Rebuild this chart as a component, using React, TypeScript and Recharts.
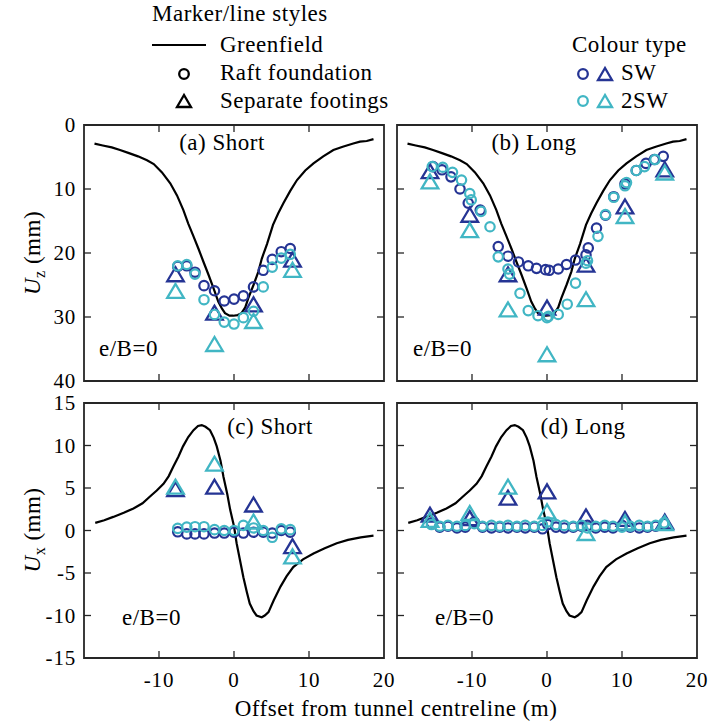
import React from 'react';
import { ComposedChart, Scatter, Line, XAxis, YAxis, ReferenceArea } from 'recharts';

// ---------- data ----------
const greenfieldUz = [
  [-18.6, 2.9], [-17.5, 3.2], [-16.3, 3.5], [-15.2, 3.9], [-14.0, 4.4], [-12.8, 4.9], [-11.6, 5.5],
  [-10.7, 6.1], [-9.6, 7.4], [-8.5, 9.1], [-7.6, 11.0], [-6.75, 13.3], [-6.1, 15.4], [-5.4, 17.4],
  [-4.75, 19.3], [-4.0, 21.6], [-3.4, 23.4], [-2.7, 25.6], [-2.1, 27.6], [-1.6, 28.7], [-1.2, 29.4],
  [-0.6, 29.8], [-0.1, 29.8], [0.5, 29.7], [1.0, 29.4], [1.5, 28.5], [1.9, 27.1], [2.6, 25.0],
  [3.25, 22.9], [3.7, 20.9], [4.4, 18.6], [5.2, 15.6], [5.9, 13.8], [6.6, 12.2], [7.5, 10.3],
  [8.4, 8.6], [9.5, 7.1], [10.6, 6.0], [11.9, 4.9], [13.25, 3.9], [14.5, 3.4], [15.9, 2.9],
  [16.8, 2.6], [17.7, 2.5], [18.6, 2.2],
];
const greenfieldUx = [
  [-18.5, 0.9], [-17.3, 1.2], [-16.1, 1.6], [-14.7, 2.1], [-13.4, 2.6], [-12.2, 3.2], [-11.2, 4.0],
  [-10.3, 4.7], [-9.4, 5.5], [-8.7, 6.4], [-8.1, 7.5], [-7.4, 8.7], [-6.8, 9.9], [-6.1, 11.0],
  [-5.4, 11.8], [-4.8, 12.3], [-4.3, 12.4], [-3.8, 12.2], [-3.2, 11.8], [-2.7, 10.9], [-2.3, 9.9],
  [-1.8, 8.2], [-1.4, 6.3], [-0.9, 4.3], [-0.5, 2.4], [0.0, 0.5], [0.35, -1.5], [0.8, -3.5],
  [1.25, -5.5], [1.7, -7.2], [2.1, -8.6], [2.6, -9.5], [3.0, -10.0], [3.7, -10.2], [4.1, -10.0],
  [4.6, -9.6], [5.3, -8.2], [6.2, -6.6], [7.0, -5.4], [7.9, -4.3], [9.2, -3.4], [10.6, -2.7],
  [12.1, -2.1], [13.7, -1.5], [15.2, -1.1], [16.9, -0.8], [18.6, -0.6],
];

// short building: raft measurement positions
const shortX = [-7.5, -6.3, -5.2, -4.0, -2.6, -1.3, 0.0, 1.25, 2.6, 3.9, 5.1, 6.3, 7.5];
const shortUzSW = [22.1, 22.0, 23.0, 25.1, 25.9, 27.5, 27.2, 26.7, 25.3, 22.7, 21.0, 19.8, 19.3];
const shortUz2SW = [22.0, 21.8, 23.3, 27.3, 29.6, 30.8, 31.1, 30.1, 29.1, 25.3, 22.2, 20.8, 20.2];
const shortUxSW = [-0.15, -0.4, -0.4, -0.4, -0.3, -0.3, -0.2, -0.3, -0.2, -0.2, -0.3, 0.0, -0.2];
const shortUx2SW = [0.25, 0.4, 0.45, 0.45, 0.1, 0.0, 0.0, 0.6, 0.3, 0.0, -0.8, 0.2, 0.1];

// short building: separate footings
const shortFootX = [-7.8, -2.6, 2.6, 7.8];
const shortFootUzSW = [23.4, 29.4, 28.1, 21.1];
const shortFootUz2SW = [26.0, 34.3, 30.7, 22.7];
const shortFootUxSW = [4.8, 5.1, 3.0, -1.9];
const shortFootUx2SW = [5.1, 7.8, 1.0, -3.1];

// long building: raft Uz
const longUzSWX = [-15.2, -14.0, -12.8, -11.6, -10.5, -8.9, -6.5, -5.2, -3.8, -2.5, -1.4, -0.2, 0.3,
  1.5, 2.6, 3.8, 5.2, 5.5, 6.6, 7.8, 8.9, 10.4, 11.9, 13.2, 14.3, 15.5];
const longUzSW = [6.5, 7.0, 8.1, 10.0, 12.2, 13.3, 19.0, 20.5, 21.4, 22.0, 22.4, 22.6, 22.7,
  22.5, 21.8, 21.1, 20.3, 19.2, 16.1, 14.1, 11.2, 9.2, 7.1, 6.0, 5.4, 4.9];
const longUz2SWX = [-15.3, -13.9, -12.6, -11.4, -10.3, -10.1, -8.8, -7.6, -6.5, -5.2, -5.0, -3.6, -2.5,
  -1.2, 0.0, 0.2, 1.5, 2.7, 3.8, 5.2, 5.4, 6.8, 7.8, 8.9, 10.4, 10.6, 11.9, 13.0, 14.4];
const longUz2SW = [6.5, 6.6, 7.4, 8.6, 10.7, 11.7, 13.5, 15.9, 20.6, 22.5, 23.3, 26.3, 29.0,
  29.8, 30.1, 29.9, 29.6, 28.0, 24.7, 21.6, 21.2, 17.4, 14.0, 11.3, 9.5, 9.0, 7.1, 6.5, 5.4];

// long building: separate footings
const longFootX = [-15.6, -10.3, -5.2, 0.0, 5.2, 10.4, 15.7];
const longFootUzSW = [7.3, 14.1, 23.4, 28.6, 21.9, 12.8, 7.0];
const longFootUz2SW = [8.9, 16.5, 28.9, 35.9, 27.3, 14.3, 7.5];
const longFootUxSW = [1.8, 1.4, 3.8, 4.55, 1.6, 1.3, 1.0];
const longFootUx2SW = [1.2, 2.0, 5.1, 2.2, -0.35, 0.9, 0.8];

// long building: raft Ux
const longUxX = [-15.4, -14.3, -13.2, -12.0, -10.9, -9.7, -8.6, -7.4, -6.3, -5.2, -4.0, -2.9, -1.7, -0.6,
  0.1, 1.2, 2.3, 3.5, 4.6, 5.4, 6.5, 7.7, 8.8, 10.0, 11.1, 12.3, 13.4, 14.5, 15.6];
const longUx2SW = [0.7, 0.5, 0.6, 0.5, 0.6, 0.8, 0.5, 0.6, 0.5, 0.6, 0.5, 0.6, 0.5, 0.6,
  1.0, 0.7, 0.6, 0.5, 0.6, 0.3, 0.5, 0.6, 0.5, 0.4, 0.5, 0.6, 0.5, 0.6, 0.9];
const longUxSW = [0.9, 0.4, 0.5, 0.3, 0.4, 1.0, 0.4, 0.3, 0.4, 0.3, 0.4, 0.3, 0.4, 0.2,
  0.7, 0.4, 0.3, 0.4, 0.5, 0.6, 0.3, 0.4, 0.3, 0.6, 0.4, 0.3, 0.4, 0.5, 0.8];

const xTicks = [-20, -10, 0, 10, 20];
const uzTicks = [0, 10, 20, 30, 40];
const uxTicks = [-15, -10, -5, 0, 5, 10, 15];

// ---------- style ----------
const SW = '#253494';
const SW2 = '#41b6c4';
const AX = '#262626';
const FONT = "'Liberation Serif', 'Times New Roman', serif";
const FS = 23;
const TXT: React.CSSProperties = { fontFamily: FONT, fontSize: FS, letterSpacing: 0.5 };
const TICK: React.CSSProperties = { fontFamily: FONT, fontSize: 21, letterSpacing: 0.8 };

const pts = (xs: number[], ys: number[]) => xs.map((x, i) => ({ x, y: ys[i] }));
const pairs = (a: number[][]) => a.map(([x, y]) => ({ x, y }));

const circleShape = (color: string) => (p: any) => (
  <circle cx={p.cx} cy={p.cy} r={4.7} fill="none" stroke={color} strokeWidth={2.2} />
);
const triShape = (color: string) => (p: any) => (
  <polygon
    points={`${p.cx},${p.cy - 7.5} ${p.cx - 8.3},${p.cy + 6.5} ${p.cx + 8.3},${p.cy + 6.5}`}
    fill="none" stroke={color} strokeWidth={2.3} strokeLinejoin="miter"
  />
);

type PanelProps = {
  left: number; top: number; height: number;
  yDomain: [number, number]; yTicks: number[]; reversed: boolean;
  showY: boolean; showX: boolean;
  line: { x: number; y: number }[];
  series: { data: { x: number; y: number }[]; color: string; kind: 'c' | 't' }[];
};

function Panel(p: PanelProps) {
  const W = 708, H = 726, PW = 300;
  const top = p.top, bottom = p.top + p.height, left = p.left, right = p.left + PW;
  const xTick = (props: any) => {
    const { x, payload } = props;
    const v = payload.value;
    const inner = v !== -20 && v !== 20;
    return (
      <g>
        {inner && <line x1={x} x2={x} y1={bottom} y2={bottom - 7} stroke={AX} strokeWidth={1.3} />}
        {inner && <line x1={x} x2={x} y1={top} y2={top + 7} stroke={AX} strokeWidth={1.3} />}
        {p.showX && v !== -20 && (
          <text x={x} y={bottom + 29} textAnchor="middle" style={TICK} fill="#000">{v}</text>
        )}
      </g>
    );
  };
  const yTick = (props: any) => {
    const { y, payload } = props;
    const v = payload.value;
    const inner = v !== p.yDomain[0] && v !== p.yDomain[1];
    return (
      <g>
        {inner && <line x1={left} x2={left + 7} y1={y} y2={y} stroke={AX} strokeWidth={1.3} />}
        {inner && <line x1={right} x2={right - 7} y1={y} y2={y} stroke={AX} strokeWidth={1.3} />}
        {p.showY && (
          <text x={left - 8} y={y + 7} textAnchor="end" style={TICK} fill="#000">{v}</text>
        )}
      </g>
    );
  };
  return (
    <div style={{ position: 'absolute', left: 0, top: 0 }}>
      <ComposedChart width={W} height={H}
        margin={{ left: left - 1, top, right: W - right, bottom: H - bottom - 1 }}>
        <XAxis type="number" dataKey="x" domain={[-20, 20]} ticks={xTicks} interval={0}
          height={1} axisLine={false} tickLine={false} tick={xTick} allowDataOverflow />
        <YAxis type="number" dataKey="y" domain={p.yDomain} ticks={p.yTicks} interval={0}
          reversed={p.reversed} width={1} axisLine={false} tickLine={false} tick={yTick} allowDataOverflow />
        <ReferenceArea x1={-20} x2={20} y1={p.yDomain[0]} y2={p.yDomain[1]}
          fill="none" fillOpacity={0} stroke={AX} strokeWidth={1.8} ifOverflow="visible" />
        <Line data={p.line} dataKey="y" stroke="#000" strokeWidth={2.2} dot={false}
          isAnimationActive={false} type="linear" />
        {p.series.map((s, i) => (
          <Scatter key={i} data={s.data} dataKey="y" isAnimationActive={false}
            shape={s.kind === 'c' ? circleShape(s.color) : triShape(s.color)} />
        ))}
      </ComposedChart>
    </div>
  );
}

export default function App() {
  const T = (props: any) => <text style={TXT} fill="#000" {...props} />;
  return (
    <div style={{ position: 'absolute', left: 0, top: 0, width: 708, height: 726, background: '#fff', overflow: 'hidden' }}>
      <Panel left={84} top={125} height={256} yDomain={[0, 40]} yTicks={uzTicks} reversed showY showX={false}
        line={pairs(greenfieldUz)}
        series={[
          { data: pts(shortX, shortUzSW), color: SW, kind: 'c' },
          { data: pts(shortFootX, shortFootUzSW), color: SW, kind: 't' },
          { data: pts(shortX, shortUz2SW), color: SW2, kind: 'c' },
          { data: pts(shortFootX, shortFootUz2SW), color: SW2, kind: 't' },
        ]} />
      <Panel left={397} top={125} height={256} yDomain={[0, 40]} yTicks={uzTicks} reversed showY={false} showX={false}
        line={pairs(greenfieldUz)}
        series={[
          { data: pts(longUzSWX, longUzSW), color: SW, kind: 'c' },
          { data: pts(longFootX, longFootUzSW), color: SW, kind: 't' },
          { data: pts(longUz2SWX, longUz2SW), color: SW2, kind: 'c' },
          { data: pts(longFootX, longFootUz2SW), color: SW2, kind: 't' },
        ]} />
      <Panel left={84} top={403} height={255} yDomain={[-15, 15]} yTicks={uxTicks} reversed={false} showY showX
        line={pairs(greenfieldUx)}
        series={[
          { data: pts(shortX, shortUxSW), color: SW, kind: 'c' },
          { data: pts(shortFootX, shortFootUxSW), color: SW, kind: 't' },
          { data: pts(shortX, shortUx2SW), color: SW2, kind: 'c' },
          { data: pts(shortFootX, shortFootUx2SW), color: SW2, kind: 't' },
        ]} />
      <Panel left={397} top={403} height={255} yDomain={[-15, 15]} yTicks={uxTicks} reversed={false} showY={false} showX
        line={pairs(greenfieldUx)}
        series={[
          { data: pts(longUxX, longUxSW), color: SW, kind: 'c' },
          { data: pts(longFootX, longFootUxSW), color: SW, kind: 't' },
          { data: pts(longUxX, longUx2SW), color: SW2, kind: 'c' },
          { data: pts(longFootX, longFootUx2SW), color: SW2, kind: 't' },
        ]} />
      <svg width={708} height={726} style={{ position: 'absolute', left: 0, top: 0, pointerEvents: 'none' }}>
        {/* legend: marker/line styles */}
        <T x={152} y={21}>Marker/line styles</T>
        <line x1={152} x2={206} y1={45} y2={45} stroke="#000" strokeWidth={2.2} />
        <T x={220} y={52}>Greenfield</T>
        <circle cx={184} cy={74} r={4.8} fill="none" stroke="#000" strokeWidth={2.3} />
        <T x={220} y={80}>Raft foundation</T>
        <polygon points="184,95 177,107 191,107" fill="none" stroke="#000" strokeWidth={2.3} />
        <T x={220} y={108}>Separate footings</T>
        {/* legend: colour type */}
        <T x={572} y={52}>Colour type</T>
        <circle cx={583} cy={74} r={4.8} fill="none" stroke={SW} strokeWidth={2.3} />
        <polygon points="605,68 598,80 612,80" fill="none" stroke={SW} strokeWidth={2.3} />
        <T x={621} y={80}>SW</T>
        <circle cx={583} cy={101} r={4.8} fill="none" stroke={SW2} strokeWidth={2.3} />
        <polygon points="605,95 598,107 612,107" fill="none" stroke={SW2} strokeWidth={2.3} />
        <T x={621} y={108}>2SW</T>
        {/* panel labels */}
        <T x={222} y={150} textAnchor="middle">(a) Short</T>
        <T x={534} y={150} textAnchor="middle">(b) Long</T>
        <T x={270} y={434} textAnchor="middle">(c) Short</T>
        <T x={583} y={434} textAnchor="middle">(d) Long</T>
        <T x={99} y={356}>e/B=0</T>
        <T x={413} y={356}>e/B=0</T>
        <T x={122} y={625}>e/B=0</T>
        <T x={435} y={625}>e/B=0</T>
        {/* axis labels */}
        <T x={396} y={716} textAnchor="middle">Offset from tunnel centreline (m)</T>
        <text transform="translate(40,253) rotate(-90)" textAnchor="middle" style={TXT} fill="#000">
          <tspan fontStyle="italic">U</tspan><tspan fontSize={16} dy={5}>z</tspan><tspan dy={-5}> (mm)</tspan>
        </text>
        <text transform="translate(40,530) rotate(-90)" textAnchor="middle" style={TXT} fill="#000">
          <tspan fontStyle="italic">U</tspan><tspan fontSize={16} dy={5}>x</tspan><tspan dy={-5}> (mm)</tspan>
        </text>
      </svg>
    </div>
  );
}
